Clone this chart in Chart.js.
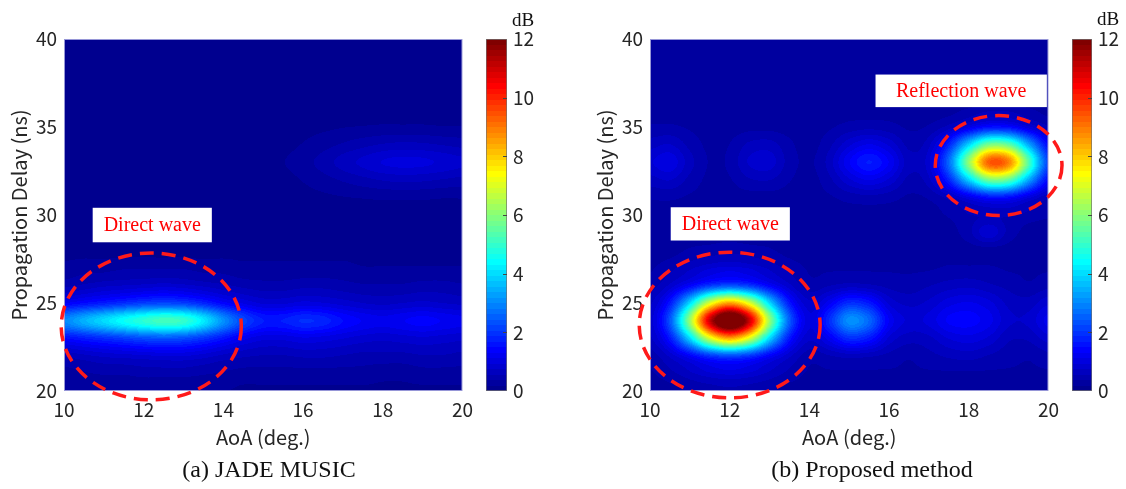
<!DOCTYPE html>
<html>
<head>
<meta charset="utf-8">
<script src="https://cdn.jsdelivr.net/npm/chart.js@4.4.0/dist/chart.umd.min.js"></script>
<style>
html,body{margin:0;padding:0;background:#fff;}
#wrap{position:relative;width:1126px;height:489px;overflow:hidden;background:#fff;}
canvas{position:absolute;top:0;}
.cap{position:absolute;font-family:"Liberation Serif","Times New Roman",serif;font-size:24px;color:#111;white-space:nowrap;transform:translate(-50%,-50%);}
.db{position:absolute;font-family:"Liberation Serif","Times New Roman",serif;font-size:19px;color:#111;white-space:nowrap;transform:translate(-50%,-50%);}
</style>
</head>
<body>
<div id="wrap">
  <canvas id="mainA" width="480" height="489" style="left:0px"></canvas>
  <canvas id="cbarA" width="80" height="489" style="left:476px"></canvas>
  <canvas id="mainB" width="480" height="489" style="left:586px"></canvas>
  <canvas id="cbarB" width="64" height="489" style="left:1062px"></canvas>
  <div class="db" style="left:523px;top:20px">dB</div>
  <div class="db" style="left:1108px;top:19px">dB</div>
  <div class="cap" style="left:269px;top:469px">(a) JADE MUSIC</div>
  <div class="cap" style="left:872px;top:469px">(b) Proposed method</div>
</div>
<script>
// ---------------- DATA ----------------
// grid axes
const aoa   = [10,10.5,11,11.5,12,12.5,13,13.5,14,14.5,15,15.5,16,16.5,17,17.5,18,18.5,19,19.5,20]; // deg
const delay = [20,21,22,23,24,25,26,27,28,29,30,31,32,33,34,35,36,37,38,39,40];                // ns
// tick labels
const xTicks  = [10,12,14,16,18,20];
const yTicks  = [20,25,30,35,40];
const cbTicks = [0,2,4,6,8,10,12];
const cRange  = [0,12]; // dB

// (a) JADE MUSIC spectrum (dB), rows = delay 20..40, cols = aoa 10..20
const jadeMusic = [
 [0.2,0.2,0.2,0.2,0.2,0.2,0.2,0.2,0.2,0.15,0.15,0.15,0.15,0.15,0.15,0.15,0.15,0.15,0.15,0.15,0.15],
 [0.3,0.35,0.4,0.4,0.45,0.45,0.45,0.4,0.35,0.3,0.3,0.3,0.3,0.3,0.3,0.3,0.25,0.25,0.3,0.3,0.3],
 [0.6,0.7,0.8,0.85,0.9,0.95,0.95,0.85,0.7,0.6,0.55,0.55,0.6,0.6,0.55,0.5,0.5,0.5,0.55,0.55,0.5],
 [1.5,1.7,1.9,2.1,2.3,2.4,2.3,2.0,1.6,1.2,1.0,1.0,1.1,1.05,0.95,0.85,0.8,0.85,0.9,0.85,0.8],
 [3.0,3.5,4.0,4.5,4.9,5.2,5.0,4.2,3.1,2.2,1.7,1.7,1.9,1.8,1.5,1.3,1.2,1.3,1.4,1.3,1.2],
 [1.3,1.5,1.7,1.9,2.1,2.2,2.1,1.8,1.4,1.1,0.9,0.9,1.0,0.95,0.85,0.75,0.7,0.75,0.8,0.75,0.7],
 [0.5,0.6,0.7,0.75,0.8,0.85,0.8,0.7,0.6,0.5,0.45,0.45,0.5,0.5,0.45,0.4,0.4,0.4,0.45,0.45,0.4],
 [0.25,0.3,0.3,0.35,0.35,0.35,0.35,0.3,0.3,0.25,0.25,0.25,0.25,0.25,0.25,0.2,0.2,0.2,0.2,0.2,0.2],
 [0.12,0.12,0.12,0.12,0.12,0.12,0.12,0.12,0.12,0.12,0.12,0.12,0.12,0.12,0.12,0.12,0.12,0.12,0.12,0.12,0.12],
 [0.1,0.1,0.1,0.1,0.1,0.1,0.1,0.1,0.1,0.1,0.1,0.1,0.1,0.1,0.1,0.1,0.1,0.1,0.1,0.1,0.1],
 [0.1,0.1,0.1,0.1,0.1,0.1,0.1,0.1,0.1,0.1,0.1,0.1,0.1,0.1,0.1,0.1,0.1,0.1,0.1,0.1,0.1],
 [0.1,0.1,0.1,0.1,0.1,0.1,0.1,0.1,0.1,0.1,0.1,0.1,0.12,0.15,0.18,0.2,0.22,0.22,0.22,0.2,0.2],
 [0.1,0.1,0.1,0.1,0.1,0.1,0.1,0.1,0.1,0.1,0.1,0.12,0.2,0.3,0.4,0.5,0.58,0.62,0.6,0.55,0.5],
 [0.1,0.1,0.1,0.1,0.1,0.1,0.1,0.1,0.1,0.1,0.12,0.18,0.3,0.45,0.65,0.8,0.95,1.0,0.98,0.9,0.8],
 [0.1,0.1,0.1,0.1,0.1,0.1,0.1,0.1,0.1,0.1,0.1,0.12,0.2,0.3,0.4,0.5,0.58,0.62,0.6,0.55,0.5],
 [0.1,0.1,0.1,0.1,0.1,0.1,0.1,0.1,0.1,0.1,0.1,0.1,0.12,0.15,0.18,0.2,0.22,0.22,0.22,0.2,0.2],
 [0.1,0.1,0.1,0.1,0.1,0.1,0.1,0.1,0.1,0.1,0.1,0.1,0.1,0.1,0.1,0.1,0.1,0.1,0.1,0.1,0.1],
 [0.1,0.1,0.1,0.1,0.1,0.1,0.1,0.1,0.1,0.1,0.1,0.1,0.1,0.1,0.1,0.1,0.1,0.1,0.1,0.1,0.1],
 [0.1,0.1,0.1,0.1,0.1,0.1,0.1,0.1,0.1,0.1,0.1,0.1,0.1,0.1,0.1,0.1,0.1,0.1,0.1,0.1,0.1],
 [0.1,0.1,0.1,0.1,0.1,0.1,0.1,0.1,0.1,0.1,0.1,0.1,0.1,0.1,0.1,0.1,0.1,0.1,0.1,0.1,0.1],
 [0.1,0.1,0.1,0.1,0.1,0.1,0.1,0.1,0.1,0.1,0.1,0.1,0.1,0.1,0.1,0.1,0.1,0.1,0.1,0.1,0.1]
];

// (b) Proposed method spectrum (dB), rows = delay 20..40, cols = aoa 10..20
const proposed = [
 [0.3,0.3,0.4,0.45,0.5,0.45,0.4,0.3,0.3,0.3,0.3,0.3,0.3,0.3,0.3,0.3,0.3,0.3,0.3,0.3,0.3],
 [0.35,0.5,0.7,0.9,1.0,0.9,0.7,0.5,0.35,0.35,0.35,0.35,0.35,0.35,0.35,0.35,0.35,0.35,0.35,0.35,0.35],
 [0.45,0.8,1.35,2.0,2.3,2.0,1.35,0.8,0.45,0.55,0.65,0.6,0.5,0.4,0.5,0.6,0.65,0.55,0.45,0.4,0.5],
 [0.7,1.65,4.0,7.0,8.5,7.0,4.0,1.65,0.8,1.25,1.9,1.65,0.9,0.65,0.7,0.95,1.05,0.9,0.6,0.6,0.85],
 [0.8,2.4,6.2,11.0,13.3,11.0,6.2,2.5,1.0,1.9,3.1,2.6,1.3,0.9,1.0,1.35,1.4,1.2,0.8,0.8,1.2],
 [0.7,1.65,4.0,7.0,8.5,7.0,4.0,1.65,0.8,1.25,1.9,1.65,0.9,0.7,0.8,1.05,1.15,1.0,0.7,0.65,0.9],
 [0.45,0.8,1.35,2.0,2.3,2.0,1.35,0.8,0.45,0.55,0.65,0.6,0.5,0.45,0.55,0.65,0.7,0.6,0.5,0.4,0.5],
 [0.35,0.5,0.7,0.9,1.0,0.9,0.7,0.5,0.35,0.35,0.35,0.35,0.35,0.35,0.35,0.4,0.4,0.4,0.35,0.35,0.35],
 [0.3,0.3,0.4,0.45,0.5,0.45,0.4,0.3,0.3,0.3,0.3,0.3,0.3,0.3,0.3,0.3,0.3,0.3,0.3,0.3,0.3],
 [0.3,0.3,0.3,0.3,0.3,0.3,0.3,0.3,0.3,0.3,0.3,0.3,0.3,0.3,0.3,0.3,0.5,0.9,0.5,0.3,0.3],
 [0.3,0.3,0.3,0.3,0.3,0.3,0.3,0.3,0.3,0.3,0.3,0.3,0.3,0.3,0.3,0.4,0.55,0.6,0.6,0.5,0.4],
 [0.4,0.41,0.35,0.3,0.3,0.3,0.3,0.3,0.3,0.35,0.45,0.5,0.45,0.35,0.4,0.65,1.1,1.55,1.5,1.0,0.6],
 [0.67,0.76,0.5,0.33,0.36,0.54,0.57,0.39,0.3,0.51,0.9,1.14,0.9,0.51,0.7,1.8,3.9,5.8,5.55,3.4,1.45],
 [0.92,1.07,0.64,0.36,0.42,0.78,0.84,0.48,0.34,0.65,1.3,1.7,1.3,0.65,0.9,2.65,6.1,9.3,8.9,5.4,2.15],
 [0.67,0.76,0.5,0.33,0.38,0.61,0.65,0.42,0.3,0.51,0.9,1.14,0.9,0.51,0.7,1.8,3.9,5.8,5.55,3.4,1.45],
 [0.4,0.41,0.35,0.3,0.3,0.32,0.32,0.3,0.3,0.35,0.45,0.5,0.45,0.35,0.4,0.65,1.1,1.55,1.5,1.0,0.6],
 [0.3,0.3,0.3,0.3,0.3,0.3,0.3,0.3,0.3,0.3,0.3,0.3,0.3,0.3,0.3,0.3,0.4,0.5,0.5,0.4,0.3],
 [0.28,0.28,0.28,0.28,0.28,0.28,0.28,0.28,0.28,0.28,0.28,0.28,0.28,0.28,0.28,0.28,0.28,0.28,0.28,0.28,0.28],
 [0.28,0.28,0.28,0.28,0.28,0.28,0.28,0.28,0.28,0.28,0.28,0.28,0.28,0.28,0.28,0.28,0.28,0.28,0.28,0.28,0.28],
 [0.28,0.28,0.28,0.28,0.28,0.28,0.28,0.28,0.28,0.28,0.28,0.28,0.28,0.28,0.28,0.28,0.28,0.28,0.28,0.28,0.28],
 [0.28,0.28,0.28,0.28,0.28,0.28,0.28,0.28,0.28,0.28,0.28,0.28,0.28,0.28,0.28,0.28,0.28,0.28,0.28,0.28,0.28]
];

// ---------------- ANNOTATIONS (data units) ----------------
const annotA = {
  ellipses: [{x:12.19, y:23.67, rx:2.26, ry:4.17}],
  labels:   [{text:'Direct wave', x0:10.72, x1:13.71, y0:28.45, y1:30.41}]
};
const annotB = {
  ellipses: [{x:12.0, y:23.75, rx:2.27, ry:4.14}, {x:18.75, y:32.81, rx:1.59, ry:2.84}],
  labels:   [{text:'Direct wave', x0:10.52, x1:13.51, y0:28.55, y1:30.44},
             {text:'Reflection wave', x0:15.66, x1:19.96, y0:36.13, y1:37.98}]
};

// ---------------- STYLE ----------------
const fontFam   = '"Noto Sans CJK JP","Noto Sans",sans-serif';
const tickFont  = {family:fontFam, size:19};
const titleFont = {family:fontFam, size:20};
const tickColor = '#262626';

// MATLAB jet(64)
function jet64(){
  const n=64, m=16, u=[];
  for(let i=1;i<=m;i++) u.push(i/m);
  for(let i=0;i<m-1;i++) u.push(1);
  for(let i=m;i>=1;i--) u.push(i/m);
  const g0 = Math.ceil(m/2) - (n%4===1?1:0);
  const cols = Array.from({length:n},()=>[0,0,0]);
  for(let k=0;k<u.length;k++){
    const g=g0+k+1, r=g+m, b=g-m;
    if(g>=1&&g<=n) cols[g-1][1]=u[k];
    if(r>=1&&r<=n) cols[r-1][0]=u[k];
    if(b>=1&&b<=n) cols[b-1][2]=u[k];
  }
  return cols.map(c=>c.map(v=>Math.round(v*255)));
}
const JET = jet64();
function colorIndex(v){
  let k = Math.floor((v-cRange[0])/(cRange[1]-cRange[0])*JET.length);
  return Math.max(0, Math.min(JET.length-1, k));
}
function cr(p0,p1,p2,p3,t){
  return p1 + 0.5*t*(p2-p0 + t*(2*p0-5*p1+4*p2-p3 + t*(3*(p1-p2)+p3-p0)));
}

// heatmap drawn from the dataset through the chart scales (interpolated shading)
const heatmapPlugin = {
  id:'heatmap',
  beforeDatasetsDraw(chart){
    const pts = chart.data.datasets[0].data;
    const nx=aoa.length, ny=delay.length;
    const Z = delay.map(()=>new Array(nx).fill(0));
    pts.forEach(p=>{ Z[delay.indexOf(p.y)][aoa.indexOf(p.x)] = p.v; });
    const {left,top,right,bottom} = chart.chartArea;
    const W=Math.round(right-left), H=Math.round(bottom-top);
    const off=document.createElement('canvas'); off.width=W; off.height=H;
    const octx=off.getContext('2d'); const img=octx.createImageData(W,H);
    const sx=chart.scales.x, sy=chart.scales.y;
    const dx=aoa[1]-aoa[0], dy=delay[1]-delay[0];
    const clx=i=>Math.max(0,Math.min(nx-1,i)), cly=j=>Math.max(0,Math.min(ny-1,j));
    const colG = new Array(W), colT = new Array(W);
    for(let px=0;px<W;px++){
      const xv=sx.getValueForPixel(left+px+0.5);
      const gx=Math.min(Math.max((xv-aoa[0])/dx,0),nx-1);
      const i=Math.min(Math.floor(gx),nx-2);
      colG[px]=i; colT[px]=gx-i;
    }
    const col=new Array(nx);
    for(let py=0;py<H;py++){
      const yv=sy.getValueForPixel(top+py+0.5);
      const gy=Math.min(Math.max((yv-delay[0])/dy,0),ny-1);
      const j=Math.min(Math.floor(gy),ny-2), ty=gy-j;
      for(let i=0;i<nx;i++) col[i]=cr(Z[cly(j-1)][i],Z[j][i],Z[j+1][i],Z[cly(j+2)][i],ty);
      for(let px=0;px<W;px++){
        const i=colG[px];
        const v=cr(col[clx(i-1)],col[i],col[i+1],col[clx(i+2)],colT[px]);
        const c=JET[colorIndex(v)];
        const o=(py*W+px)*4;
        img.data[o]=c[0]; img.data[o+1]=c[1]; img.data[o+2]=c[2]; img.data[o+3]=255;
      }
    }
    octx.putImageData(img,0,0);
    chart.ctx.drawImage(off,left,top);
  }
};

function marksPlugin(annot){
  return {
    id:'marks',
    afterDraw(chart){
      const ctx=chart.ctx, sx=chart.scales.x, sy=chart.scales.y, a=chart.chartArea;
      ctx.save();
      ctx.strokeStyle='rgba(150,150,215,1)'; ctx.lineWidth=1;
      ctx.strokeRect(a.left+0.5,a.top+0.5,a.right-a.left-1,a.bottom-a.top-1);
      annot.labels.forEach(l=>{
        const x0=sx.getPixelForValue(l.x0), x1=sx.getPixelForValue(l.x1);
        const y0=sy.getPixelForValue(l.y1), y1=sy.getPixelForValue(l.y0);
        ctx.fillStyle='#ffffff'; ctx.fillRect(x0,y0,x1-x0,y1-y0);
        ctx.fillStyle='#ff0000'; ctx.font='20px "Liberation Serif","Times New Roman",serif';
        ctx.textAlign='center'; ctx.textBaseline='middle';
        ctx.fillText(l.text,(x0+x1)/2,(y0+y1)/2+1);
      });
      annot.ellipses.forEach(e=>{
        const cx=sx.getPixelForValue(e.x), cy=sy.getPixelForValue(e.y);
        const rx=Math.abs(sx.getPixelForValue(e.x+e.rx)-cx), ry=Math.abs(sy.getPixelForValue(e.y+e.ry)-cy);
        ctx.beginPath(); ctx.ellipse(cx,cy,rx,ry,0,0,Math.PI*2);
        ctx.setLineDash([14,8]); ctx.lineWidth=3.5; ctx.strokeStyle='#ff1a1a'; ctx.stroke();
      });
      ctx.restore();
    }
  };
}

function makeMain(id, Z, annot){
  const cells=[];
  delay.forEach((y,j)=>aoa.forEach((x,i)=>cells.push({x:x,y:y,v:Z[j][i]})));
  return new Chart(document.getElementById(id),{
    type:'scatter',
    data:{datasets:[{data:cells,pointRadius:0,pointHoverRadius:0}]},
    options:{
      responsive:false, animation:false, events:[],
      layout:{padding:{left:0,top:39,right:17,bottom:0}},
      plugins:{legend:{display:false},tooltip:{enabled:false}},
      scales:{
        x:{type:'linear',min:10,max:20,
           afterBuildTicks:s=>{s.ticks=xTicks.map(v=>({value:v}));},
           grid:{display:false,drawTicks:false},border:{display:false},
           ticks:{font:tickFont,color:tickColor,padding:7,maxRotation:0,autoSkip:false},
           title:{display:true,text:'AoA (deg.)',font:titleFont,color:tickColor,padding:{top:0,bottom:40}},
           afterFit:s=>{s.height=98;}},
        y:{type:'linear',min:20,max:40,
           afterBuildTicks:s=>{s.ticks=yTicks.map(v=>({value:v}));},
           grid:{display:false,drawTicks:false},border:{display:false},
           ticks:{font:tickFont,color:tickColor,padding:7,autoSkip:false},
           title:{display:true,text:'Propagation Delay (ns)',font:titleFont,color:tickColor,padding:{top:7,bottom:0}},
           afterFit:s=>{s.width=64;}}
      }
    },
    plugins:[heatmapPlugin, marksPlugin(annot)]
  });
}

const cbTickPlugin = {
  id:'cbticks',
  afterDatasetsDraw(chart){
    const ctx=chart.ctx, sy=chart.scales.y, a=chart.chartArea;
    ctx.save(); ctx.strokeStyle='#444'; ctx.lineWidth=1;
    cbTicks.forEach(v=>{
      if(v===cRange[0]||v===cRange[1]) return;
      const y=Math.round(sy.getPixelForValue(v))+0.5;
      ctx.beginPath(); ctx.moveTo(a.right-4,y); ctx.lineTo(a.right,y); ctx.stroke();
    });
    ctx.restore();
  }
};

function makeCbar(id, yWidth){
  return new Chart(document.getElementById(id),{
    type:'bar',
    data:{labels:['dB'],datasets:[{
      data:[[cRange[0],cRange[1]]],
      backgroundColor:(c)=>{
        const ch=c.chart, sy=ch.scales.y;
        if(!sy||!ch.chartArea) return '#00008f';
        const y0=sy.getPixelForValue(cRange[0]), y1=sy.getPixelForValue(cRange[1]);
        const g=ch.ctx.createLinearGradient(0,y0,0,y1);
        const n=JET.length;
        JET.forEach((col,i)=>{
          const s='rgb('+col[0]+','+col[1]+','+col[2]+')';
          g.addColorStop(i/n,s); g.addColorStop((i+1)/n,s);
        });
        return g;
      },
      borderColor:'#707070',borderWidth:1,borderSkipped:false,
      barPercentage:1,categoryPercentage:1
    }]},
    options:{
      responsive:false, animation:false, events:[],
      layout:{padding:{left:10,top:39,right:0,bottom:98}},
      plugins:{legend:{display:false},tooltip:{enabled:false}},
      scales:{
        x:{display:false},
        y:{position:'right',min:cRange[0],max:cRange[1],
           afterBuildTicks:s=>{s.ticks=cbTicks.map(v=>({value:v}));},
           grid:{display:false,drawTicks:false},border:{display:false},
           ticks:{font:tickFont,color:tickColor,padding:6,autoSkip:false},
           afterFit:s=>{s.width=yWidth;}}
      }
    },
    plugins:[cbTickPlugin]
  });
}

makeMain('mainA', jadeMusic, annotA);
makeMain('mainB', proposed, annotB);
makeCbar('cbarA', 49);
makeCbar('cbarB', 34);
</script>
</body>
</html>
